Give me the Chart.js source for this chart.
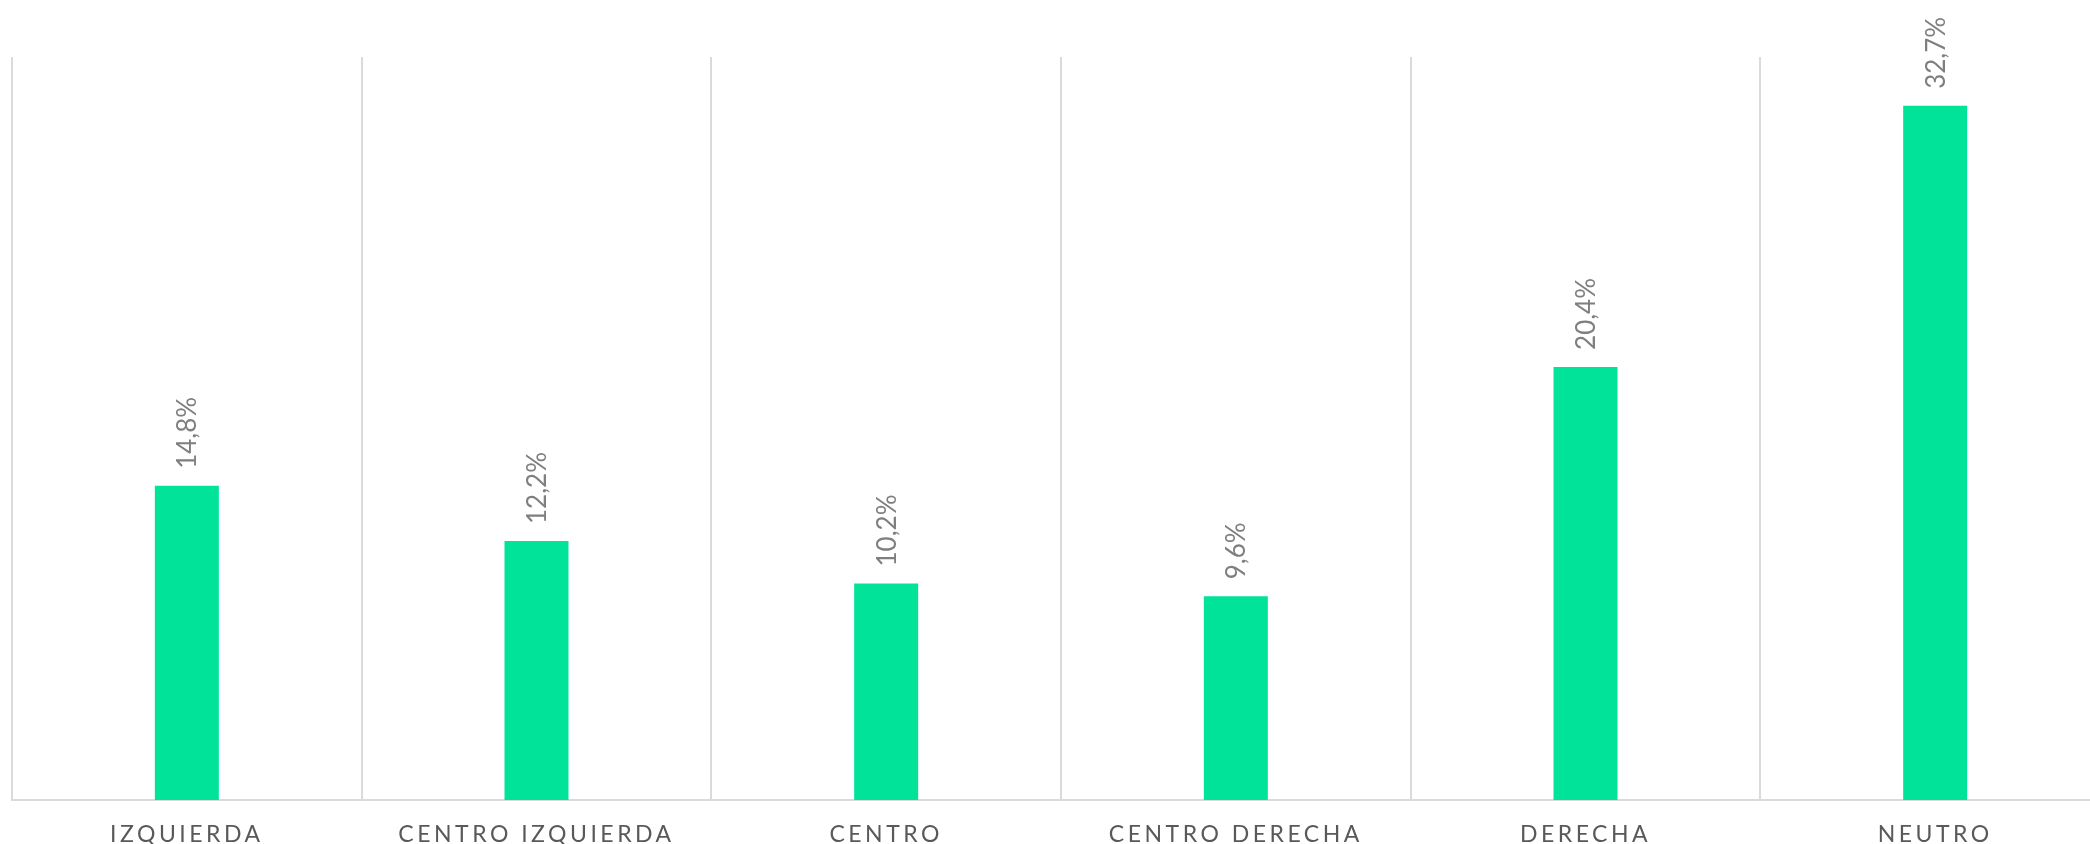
<!DOCTYPE html>
<html>
<head>
<meta charset="utf-8">
<script src="https://cdn.jsdelivr.net/npm/chart.js@4/dist/chart.umd.min.js"></script>
<style>
  html, body { margin: 0; padding: 0; background: #fff; overflow: hidden; }
  #wrap { width: 2114px; height: 844px; position: relative; }
</style>
</head>
<body>
<div id="wrap"><canvas id="chart"></canvas></div>
<script>
const categories = ['IZQUIERDA', 'CENTRO IZQUIERDA', 'CENTRO', 'CENTRO DERECHA', 'DERECHA', 'NEUTRO'];
const shares = [14.8, 12.2, 10.2, 9.6, 20.4, 32.7];
const yMax = 35;

const barColor = '#00E398';
const gridColor = '#DADADA';
const fontFamily = 'Lato, "Noto Sans", sans-serif';

function fmtPct(v) { return v.toFixed(1).replace('.', ',') + '%'; }

// letter-spaced category labels, plain value labels
const spacingPlugin = {
  id: 'tickSpacing',
  beforeDraw(chart) { chart.ctx.letterSpacing = '3.5px'; },
  beforeDatasetsDraw(chart) { chart.ctx.letterSpacing = '0px'; }
};

const valueLabels = {
  id: 'valueLabels',
  afterDatasetsDraw(chart) {
    const ctx = chart.ctx;
    const meta = chart.getDatasetMeta(0);
    ctx.save();
    ctx.letterSpacing = '0px';
    ctx.font = '26px ' + fontFamily;
    ctx.fillStyle = '#7F7F7F';
    ctx.textAlign = 'left';
    ctx.textBaseline = 'alphabetic';
    meta.data.forEach((bar, i) => {
      ctx.save();
      ctx.translate(bar.x + 9.5, bar.y - 17);
      ctx.rotate(-Math.PI / 2);
      ctx.fillText(fmtPct(shares[i]), 0, 0);
      ctx.restore();
    });
    ctx.restore();
  }
};

new Chart(document.getElementById('chart'), {
  type: 'bar',
  data: {
    labels: categories,
    datasets: [{
      data: shares,
      backgroundColor: barColor,
      borderWidth: 0,
      barPercentage: 0.183,
      categoryPercentage: 1
    }]
  },
  options: {
    responsive: true,
    maintainAspectRatio: false,
    devicePixelRatio: 1,
    animation: false,
    layout: { padding: { left: 12, top: 57, right: 4, bottom: 0 } },
    plugins: { legend: { display: false }, tooltip: { enabled: false } },
    scales: {
      x: {
        afterFit: (s) => { s.height = 44; },
        grid: { display: true, color: gridColor, lineWidth: 2, drawTicks: false, offset: true },
        border: { display: true, color: gridColor, width: 2 },
        ticks: { color: '#595959', padding: 21, font: { family: fontFamily, size: 23 } }
      },
      y: {
        display: false,
        min: 0,
        max: yMax
      }
    }
  },
  plugins: [spacingPlugin, valueLabels]
});
</script>
</body>
</html>
